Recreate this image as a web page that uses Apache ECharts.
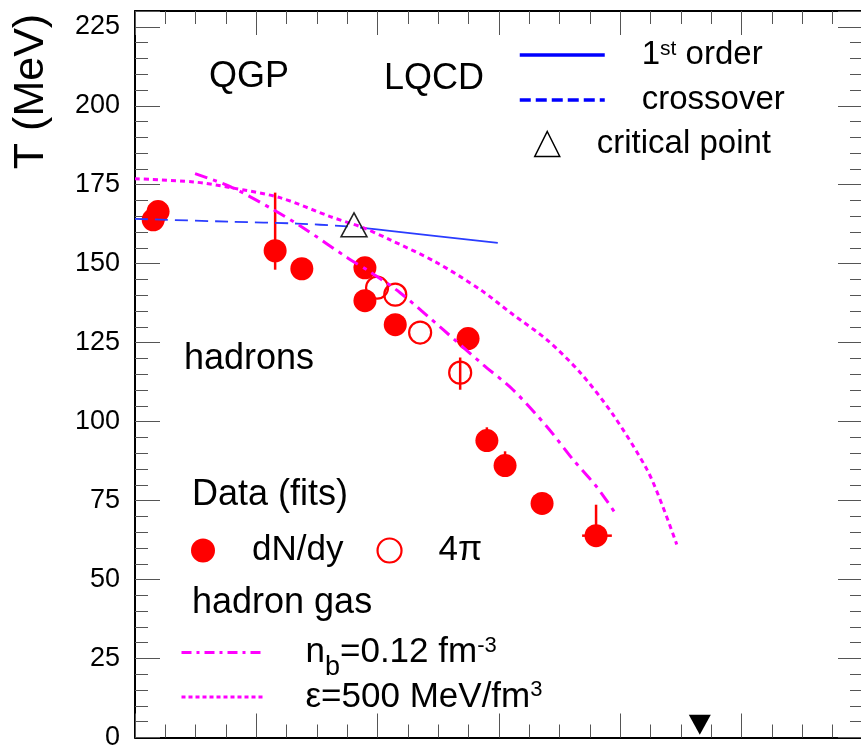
<!DOCTYPE html>
<html>
<head>
<meta charset="utf-8">
<title>Chemical freeze-out: T vs baryon chemical potential</title>
<script src="https://cdn.jsdelivr.net/npm/echarts@6/dist/echarts.min.js"></script>
<style>
  html, body { margin: 0; padding: 0; background: #fff; }
  #chart { width: 861px; height: 745px; }
</style>
</head>
<body>
<div id="chart"></div>
<script>
// x = baryon chemical potential (MeV), y = temperature T (MeV)
const xRange = [0, 1200]
const xStep = 200
const yRange = [0, 230]
const yStep = 25

// data (fits), dN/dy
const dndyMu = [30, 38, 231, 275, 379, 379, 429, 549, 580, 610, 671, 760]
const dndyT = [163.9, 166.5, 154.1, 148.4, 148.7, 138.3, 130.7, 126.3, 94.0, 86.1, 74.1, 63.9]
// data (fits), 4pi
const fourPiMu = [399, 429, 470, 536]
const fourPiT = [142.4, 140.2, 128.2, 115.5]
// vertical error bars
const errMu = [231, 580, 610, 760, 536]
const errLow = [148.1, 93.5, 85.5, 62.0, 110.1]
const errHigh = [172.5, 98.2, 90.6, 73.7, 120.3]
// horizontal error bar
const errXT = [63.9]
const errXLow = [737]
const errXHigh = [786]

// LQCD
const crossMu = [0, 157, 267, 343, 359]
const crossT = [164.2, 163.3, 162.7, 161.9, 161.7]
const firstMu = [371, 420, 598]
const firstT = [161.4, 160.4, 156.6]
const critMu = [361]
const critT = [162.3]

// hadron gas
const nbMu = [99, 157, 228, 277, 350, 387, 437, 508, 574, 623, 679, 722, 762, 791]
const nbT = [178.5, 174.4, 167.1, 161.4, 151.9, 147.5, 140.8, 129.1, 118, 110.1, 98.4, 88, 79.1, 71.2]
const epsMu = [0, 96, 157, 239, 322, 376, 420, 495, 569, 623, 679, 734, 788, 844, 870, 893]
const epsT = [176.9, 175.9, 174.1, 170.9, 164.9, 161.4, 157.6, 150.6, 141.8, 133.9, 125.9, 115.5, 102.2, 84.8, 73.1, 61.1]

// nuclear matter marker
const nmMu = [931]
const nmT = [4]

const FONT = '"Liberation Sans", Arial, Helvetica, sans-serif'
const RED = '#ff0000'
const MAGENTA = '#ff00ff'
const BLUE = '#2a3cff'

const zip = (a, b) => a.map((v, i) => [v, b[i]])

const chart = echarts.init(document.getElementById('chart'))

const tickStyle = { color: '#555', width: 1 }

function xAxisOf(position) {
  return {
    type: 'value',
    position: position,
    min: xRange[0],
    max: xRange[1],
    interval: xStep,
    axisLine: { show: true, onZero: false, lineStyle: { color: '#000', width: 2 } },
    axisTick: { show: true, inside: true, length: 24, lineStyle: tickStyle },
    minorTick: { show: true, splitNumber: 4, length: 13, lineStyle: tickStyle },
    axisLabel: { show: false },
    splitLine: { show: false },
    minorSplitLine: { show: false }
  }
}

function yAxisOf(position, labels) {
  return {
    type: 'value',
    position: position,
    min: yRange[0],
    max: yRange[1],
    interval: yStep,
    axisLine: { show: true, onZero: false, lineStyle: { color: '#000', width: 2 } },
    axisTick: { show: true, inside: true, length: 25, lineStyle: tickStyle },
    minorTick: { show: true, splitNumber: 5, length: 13, lineStyle: tickStyle },
    axisLabel: {
      show: labels,
      showMaxLabel: false,
      margin: 15,
      color: '#000',
      fontSize: 27,
      fontFamily: FONT
    },
    splitLine: { show: false },
    minorSplitLine: { show: false }
  }
}

// error bars drawn through the axes
function vErrItem(params, api) {
  const p1 = api.coord([api.value(0), api.value(1)])
  const p2 = api.coord([api.value(0), api.value(2)])
  return {
    type: 'line',
    shape: { x1: p1[0], y1: p1[1], x2: p2[0], y2: p2[1] },
    style: { stroke: RED, lineWidth: 2.5 }
  }
}
function hErrItem(params, api) {
  const p1 = api.coord([api.value(1), api.value(0)])
  const p2 = api.coord([api.value(2), api.value(0)])
  return {
    type: 'line',
    shape: { x1: p1[0], y1: p1[1], x2: p2[0], y2: p2[1] },
    style: { stroke: RED, lineWidth: 2.5 }
  }
}

function label(text, x, y, size) {
  return {
    type: 'text',
    x: x,
    y: y,
    z: 10,
    style: {
      text: text,
      font: size + 'px ' + FONT,
      fill: '#000',
      textAlign: 'left',
      textVerticalAlign: 'middle'
    }
  }
}

const option = {
  animation: false,
  backgroundColor: '#fff',
  textStyle: { fontFamily: FONT },
  grid: {
    left: 135,
    right: -2,
    top: 11,
    bottom: 7.5,
    containLabel: false,
    outerBoundsMode: 'none'
  },
  xAxis: [xAxisOf('bottom'), xAxisOf('top')],
  yAxis: [yAxisOf('left', true), yAxisOf('right', false)],
  legend: [
    {
      orient: 'vertical',
      left: 513,
      top: 33.5,
      itemWidth: 85,
      itemHeight: 25,
      itemGap: 12,
      selectedMode: false,
      data: [
        { name: '1st order', itemStyle: { opacity: 0 }, lineStyle: { color: '#0000ff', width: 3.5, type: 'solid' } },
        { name: 'crossover', itemStyle: { opacity: 0 }, lineStyle: { color: '#0000ff', width: 3.5, type: [11, 5] } }
      ],
      formatter: (name) => {
        if (name === '1st order') return '{p|1}{sup|st}{a| order}'
        return '{p|crossover}'
      },
      textStyle: {
        color: '#000',
        rich: {
          a: { fontSize: 33, lineHeight: 25, fontFamily: FONT, color: '#000' },
          p: { fontSize: 33, lineHeight: 25, fontFamily: FONT, color: '#000', padding: [0, 0, 0, 32] },
          sup: { fontSize: 21, lineHeight: 25, fontFamily: FONT, color: '#000', padding: [0, 0, 12, 0] }
        }
      }
    },
    {
      orient: 'vertical',
      left: 529,
      top: 122.5,
      itemWidth: 25,
      itemHeight: 25,
      selectedMode: false,
      data: [
        { name: 'critical point', itemStyle: { color: 'rgba(0,0,0,0)', borderColor: '#000', borderWidth: 1.5 } }
      ],
      formatter: (name) => '{p|' + name + '}',
      textStyle: {
        color: '#000',
        rich: {
          p: { fontSize: 33, lineHeight: 25, fontFamily: FONT, color: '#000', padding: [0, 0, 0, 32] }
        }
      }
    },
    {
      orient: 'horizontal',
      left: 186,
      top: 528,
      itemWidth: 24,
      itemHeight: 24,
      itemGap: 33,
      selectedMode: false,
      data: [
        { name: 'dN/dy', itemStyle: { color: RED, opacity: 1 } },
        { name: '4π', itemStyle: { color: 'rgba(0,0,0,0)', borderColor: RED, borderWidth: 2.2, opacity: 1 } }
      ],
      formatter: (name) => '{p|' + name + '}',
      textStyle: {
        color: '#000',
        rich: {
          p: { fontSize: 35, lineHeight: 36, fontFamily: FONT, color: '#000', padding: [0, 0, 0, 32] }
        }
      }
    },
    {
      orient: 'vertical',
      left: 175,
      top: 619,
      itemWidth: 82,
      itemHeight: 25,
      itemGap: -2,
      selectedMode: false,
      data: [
        { name: 'nb', itemStyle: { opacity: 0 }, lineStyle: { color: MAGENTA, width: 3, type: [10, 5, 3, 5] } },
        { name: 'eps', itemStyle: { opacity: 0 }, lineStyle: { color: MAGENTA, width: 3, type: [4, 3] } }
      ],
      formatter: (name) => {
        if (name === 'nb') return '{p|n}{sub|b}{a|=0.12 fm}{sup|-3}'
        return '{p|ε=500 MeV/fm}{sup|3}'
      },
      textStyle: {
        color: '#000',
        rich: {
          a: { fontSize: 35, lineHeight: 36, fontFamily: FONT, color: '#000' },
          p: { fontSize: 35, lineHeight: 36, fontFamily: FONT, color: '#000', padding: [0, 0, 0, 37] },
          sub: { fontSize: 27, lineHeight: 36, fontFamily: FONT, color: '#000', padding: [30, 0, 0, 0] },
          sup: { fontSize: 22, lineHeight: 36, fontFamily: FONT, color: '#000', padding: [0, 0, 14, 0] }
        }
      }
    }
  ],
  graphic: [
    {
      type: 'text',
      x: 31,
      y: 91.5,
      rotation: Math.PI / 2,
      style: {
        text: 'T (MeV)',
        font: '43px ' + FONT,
        fill: '#000',
        textAlign: 'center',
        textVerticalAlign: 'middle'
      }
    },
    label('QGP', 209, 77.5, 36),
    label('LQCD', 384, 79, 36),
    label('hadrons', 184, 359, 36),
    label('Data (fits)', 192, 495, 36),
    label('hadron gas', 192, 603, 36)
  ],
  series: [
    {
      name: 'vErr',
      type: 'custom',
      renderItem: vErrItem,
      encode: { x: 0, y: [1, 2] },
      data: errMu.map((m, i) => [m, errLow[i], errHigh[i]]),
      z: 2,
      silent: true
    },
    {
      name: 'hErr',
      type: 'custom',
      renderItem: hErrItem,
      encode: { y: 0, x: [1, 2] },
      data: errXT.map((t, i) => [t, errXLow[i], errXHigh[i]]),
      z: 2,
      silent: true
    },
    {
      name: 'dN/dy',
      type: 'scatter',
      data: zip(dndyMu, dndyT),
      symbol: 'circle',
      symbolSize: 23,
      itemStyle: { color: RED, opacity: 1 },
      z: 3
    },
    {
      name: '4π',
      type: 'scatter',
      data: zip(fourPiMu, fourPiT),
      symbol: 'circle',
      symbolSize: 22,
      itemStyle: { color: 'rgba(0,0,0,0)', borderColor: RED, borderWidth: 2.2, opacity: 1 },
      z: 3
    },
    {
      name: 'crossover',
      type: 'line',
      data: zip(crossMu, crossT),
      symbol: 'none',
      smooth: 0.3,
      lineStyle: { color: BLUE, width: 1.8, type: [13, 7] },
      z: 5
    },
    {
      name: '1st order',
      type: 'line',
      data: zip(firstMu, firstT),
      symbol: 'none',
      smooth: 0.3,
      lineStyle: { color: BLUE, width: 1.8 },
      z: 5
    },
    {
      name: 'critical point',
      type: 'scatter',
      data: zip(critMu, critT),
      symbol: 'triangle',
      symbolSize: [26, 24],
      itemStyle: { color: 'rgba(0,0,0,0)', borderColor: '#222', borderWidth: 1.5, opacity: 1 },
      z: 6
    },
    {
      name: 'nb',
      type: 'line',
      data: zip(nbMu, nbT),
      symbol: 'none',
      smooth: 0.3,
      lineStyle: { color: MAGENTA, width: 3, type: [13, 6, 4, 6] },
      z: 5
    },
    {
      name: 'eps',
      type: 'line',
      data: zip(epsMu, epsT),
      symbol: 'none',
      smooth: 0.3,
      lineStyle: { color: MAGENTA, width: 3, type: [5, 4] },
      z: 5
    },
    {
      name: 'nuclear matter',
      type: 'scatter',
      data: zip(nmMu, nmT),
      symbol: 'triangle',
      symbolRotate: 180,
      symbolSize: [22, 20],
      itemStyle: { color: '#000', opacity: 1 },
      z: 6
    }
  ]
}

chart.setOption(option)
</script>
</body>
</html>
